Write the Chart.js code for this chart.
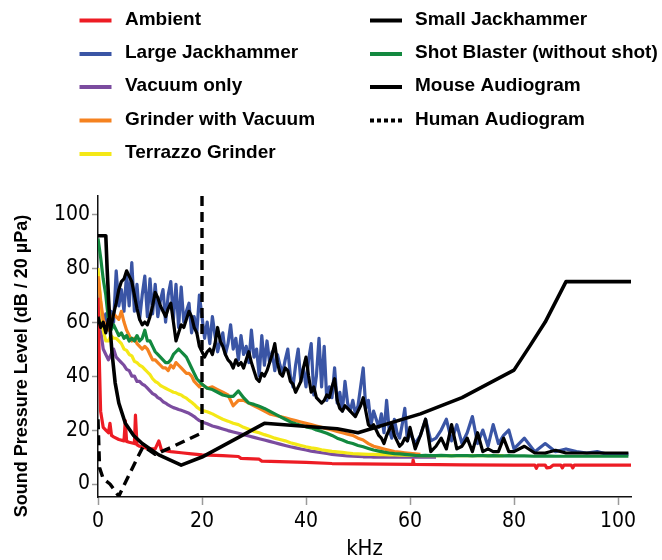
<!DOCTYPE html>
<html>
<head>
<meta charset="utf-8">
<script src="https://cdn.jsdelivr.net/npm/chart.js@4.4.1/dist/chart.umd.min.js"></script>
<style>
html,body{margin:0;padding:0;background:#fff;}
canvas{display:block;}
</style>
</head>
<body>
<canvas id="c" width="662" height="560"></canvas>
<script>
// ---------- DATA ----------
const seriesNames = ['Ambient','Large Jackhammer','Vacuum only','Grinder with Vacuum','Terrazzo Grinder',
                     'Small Jackhammer','Shot Blaster (without shot)','Mouse Audiogram','Human Audiogram'];
const yAxisTitle = 'Sound Pressure Level (dB / 20 µPa)';
const xAxisTitle = 'kHz';

// fine frequency grid (kHz) for the two jackhammer spectra
const jackKHz = [
  0,0.5,1,1.5,2,2.5,3,3.5,4,4.5,5,5.5,6,6.5,7,7.5,8,8.5,9,9.5,10,10.5,11,11.5,12,12.5,13,13.5,14,14.5,15,15.5,16,16.5,17,17.5,18,18.5,19,19.5,20,
  20.5,21,21.5,22,22.5,23,23.5,24,24.5,25,25.5,26,26.5,27,27.5,28,28.5,29,29.5,30,
  30.5,31,31.5,32,32.5,33,33.5,34,34.5,35,35.5,36,36.5,37,37.5,38,38.5,39,39.5,40,
  40.5,41,41.5,42,42.5,43,43.5,44,44.5,45,45.5,46,46.5,47,47.5,48,48.5,49,49.5,50,
  50.5,51,51.5,52,52.5,53,53.5,54,54.5,55,55.5,56,56.5,57,57.5,58,58.5,59,59.5,60,
  61,62,63,64,65,66,67,68,69,70,71,72,73,74,75,76,77,78,79,80,
  82,84,86,88,90,92,94,96,98,100,102
];

const largeJackhammer = [
  62,66,59,63,58,64,60,79,66,72, 64,78,66,82,64,74,61,70,77,62, 76,63,74,62,68,72,60,70,75,61, 74,58,73,60,64,67,56,62,56,70, 62,
  54,60,52,62,55,49,53,56,48,52,59,50,54,46,55,48,51,45,57,47,
  50,40,55,44,53,45,49,42,48,44,41,46,50,40,36,44,50,38,43,36,
  46,52,33,40,54,36,51,31,36,32,43,30,34,27,38,30,27,31,26,29,
  36,43,28,31,22,27,24,21,26,19,31,20,17,24,19,17,22,28,16,19,
  15,18,24,16,17,20,24,16,22,15,19,25,15,20,14,22,15,18,20,13,
  17,12,15,12,13,12,11.5,12,11,11,11
];

const smallJackhammer = [
  62,58,60,56,61,58,63,67,72,75, 76,79,77,75,70,65,61,59,60,59, 62,66,71,69,66,64,62,65,67,60, 53,56,59,58,61,64,62,58,56,51, 49,
  47,49,50,48,52,58,53,51,48,46,45,43,46,44,45,43,46,49,45,42,
  39,38,41,40,42,45,48,52,45,41,40,43,42,38,37,34,36,38,43,47,
  40,34,36,32,31,30,31,33,32,36,39,31,28,27,29,28,27,26,25,27,
  29,32,27,22,21,22,20,18,17,15,18,20,22,18,16,14,15,17,16,21,
  13,18,24,12,14,17,13,22,13,14,17,12,19,12,13,12,12,17,12,12,
  14,11.5,11.5,12.5,11.5,11.5,11.5,11.5,11.5,11.5,11.5
];

// coarser frequency grid (kHz) for the smoother spectra
const smoothKHz = [
  0,0.5,1,1.5,2,2.5,3,3.5,4,4.5,5,5.5,6,6.5,7,7.5,8,8.5,9,9.5,10,10.5,11,11.5,12,12.5,13,13.5,14,14.5,15,15.5,16,16.5,17,17.5,18,18.5,19,19.5,20,
  21,22,23,24,25,26,27,28,29,30,31,32,33,34,35,36,37,38,39,40,41,42,43,44,45,46,47,48,49,50,
  51,52,53,54,55,56,57,58,59,60,61,62,63,64,65,66,67,68,69,70,71,72,73,74,75,76,77,78,79,80,
  82,84,86,88,90,92,94,96,98,100,102
];

const shotBlaster = [
  91,84,76,70,61,57,59,57,55,56, 54,55,53,54,53,55,53,54,57,53, 53,51,49,48,47,46,45,45,46,48, 49,50,49,48,47,45,43,41,39,38, 37,
  35.5,35,34,33,32.5,32.5,34.5,32,30,29.5, 28.8,28,27,26,25,24,23,22.3,21.8,21.2, 20.8,20,19.5,18.8,18,17,16.3,15.5,15,14.3,
  13.8,13.2,12.6,12.2,11.8,11.5,11.3,11.2,11,10.8, 10.6,10.5,10.6,10.5,10.5,10.6,10.5,10.4,10.5,10.5, 10.5,10.4,10.5,10.5,10.4,10.5,10.4,10.4,10.5,10.4,
  10.4,10.3,10.4,10.3,10.3,10.3,10.3,10.3,10.3,10.3,10.3
];

const grinderWithVacuum = [
  77,68,61,58,57,60,63,62,61,64, 60,57,55,53,54,52,51,50,51,50, 48,46,46,45,44,43,43,42,44,43, 45,44,43,42,41,41,40,38,37,36, 37,
  35.5,36,35,34,33,29,31,31,30,29, 28,27,26,25.5,25,24.5,24,23.5,23,22.5, 22,21.5,21,20.5,20,19.5,19,18.5,18,17,
  16.3,15,14,13.5,13,12.5,12,11.8,11.6,11.4, 11.2,11,null,null,null,null,null,null,null,null, null,null,null,null,null,null,null,null,null,null,
  null,null,null,null,null,null,null,null,null,null,null
];

const terrazzoGrinder = [
  80,68,57,53,53,55,54,54,53,52, 50,49.5,48,47.5,45.5,45,44,43.5,42.5,41.5, 40.5,39,38,37.5,36.5,36,35.5,35,34.5,34, 33.8,33.3,33,32.3,31.8,31,30.3,29.5,28.5,27.8, 27.3,
  26.8,26,25,24,23.3,22.5,22,21,20.3,19.5, 19,18.3,17.7,17,16.5,16,15.3,14.8,14.3,13.8, 13.4,13.1,12.7,12.4,12.1,11.9,11.7,11.5,11.3,11.2,
  11.1,11,11,10.9,10.9,10.8,10.8,10.7,10.7,10.6, 10.6,10.5,10.5,10.5,10.5,10.5,10.5,10.5,10.5,10.5, 10.5,10.5,10.5,10.5,10.5,10.5,10.5,10.5,null,null,
  null,null,null,null,null,null,null,null,null,null,null
];

const vacuumOnly = [
  72,57,50,48,46,48,50,47,46,45, 44,42.5,42,40,40,38,38,37,36.5,35.5, 34.5,33.5,33,32,31.5,30.5,30,29.3,28.8,28.3, 28,27.6,27.3,27,26.6,26.2,25.6,25,24.2,23.5, 23,
  22.3,21.5,21,20.4,19.8,19.3,18.8,18.3,17.8,17.3, 16.8,16.3,15.8,15.3,14.8,14.3,13.8,13.4,13,12.6, 12.2,11.9,11.6,11.3,11,10.8,10.6,10.4,10.3,10.2,
  10.1,10.1,10,10,10,10,10,10,10,10, 10,10,10,10,10,null,null,null,null,null, null,null,null,null,null,null,null,null,null,null,
  null,null,null,null,null,null,null,null,null,null,null
];

const ambientKHz = [0,0.2,0.5,1,1.5,2,2.3,2.6,3,4,5,5.25,5.5,6,7,7.2,7.5,8,9,10,11,11.7,12.2,14,16,18,20,24,27,27.5,31,31.5,40,45,55,60.5,60.6,60.8,70,80,84,84.3,84.6,86,86.3,87,87.5,89,89.3,89.6,91,91.3,91.6,102.5];
const ambientDB  = [69,50,27,21,20,19,22.5,18,17.5,16.5,16,23.5,15.8,15.5,15,25.5,14.5,14,13.5,13,13,16,12.6,12,11.6,11.2,10.8,10.5,10.2,9.5,9.2,8.5,8,7.6,7.4,7.3,8.9,7.3,7.1,7,7,5.8,7,7,6,6.2,7,7,6,7,7,6,7,7];

const mouseKHz = [0,1.5,1.75,2.05,2.4,2.7,3.3,4,5.25,6.85,8.5,11.7,16,20,32,46,50,62,70,80,83,86,90,102.5];
const mouseDB  = [92,92,80,68,56,48.5,37.5,30,22.5,18,15,10.8,7,10,22.5,20.5,19,26,32,42.2,51,60,75,75];

const humanKHz = [0,0.3,1,2.3,4,5.8,7.4,8.7,11,14,20,20];
const humanDB  = [24,6,2,0,-4.5,2.7,9,14,11,13.5,19,107];

const xTickValues = [0,20,40,60,80,100];
const yTickValues = [0,20,40,60,80,100];

// ---------- BUILD ----------
function pts(xs, ys){ const out=[]; xs.forEach((x,i)=>{ if(ys[i]!==null && ys[i]!==undefined) out.push({x:x,y:ys[i]}); }); return out; }

const seriesDefs = [
  {data: pts(ambientKHz, ambientDB),          color:'#ed1c24', width:3.2, order:3},
  {data: pts(jackKHz, largeJackhammer),       color:'#3a55a5', width:3.2, order:8},
  {data: pts(smoothKHz, vacuumOnly),          color:'#7b4c9f', width:3.2, order:7},
  {data: pts(smoothKHz, grinderWithVacuum),   color:'#f58220', width:3.2, order:5},
  {data: pts(smoothKHz, terrazzoGrinder),     color:'#f4e816', width:3.2, order:6},
  {data: pts(jackKHz, smallJackhammer),       color:'#000000', width:3.2, order:2},
  {data: pts(smoothKHz, shotBlaster),         color:'#13893f', width:3.2, order:4},
  {data: pts(mouseKHz, mouseDB),              color:'#000000', width:3.6, order:0},
  {data: pts(humanKHz, humanDB),              color:'#000000', width:3.4, order:1, dash:[10,6]}
];

const datasets = seriesDefs.map((s,i)=>({
  label: seriesNames[i],
  data: s.data,
  borderColor: s.color,
  backgroundColor: s.color,
  borderWidth: s.width,
  borderDash: s.dash || [],
  order: s.order,
  pointRadius: 0,
  tension: 0,
  fill: false,
  borderJoinStyle: 'round'
}));

const legendPlugin = {
  id: 'twoColLegend',
  afterDraw(chart){
    const ctx = chart.ctx;
    const baselines = [24.5, 58, 91, 124.5, 158];
    ctx.save();
    ctx.font = 'bold 19px "Liberation Sans", Arial, sans-serif';
    ctx.textBaseline = 'alphabetic';
    ctx.textAlign = 'left';
    chart.data.datasets.forEach((ds,i)=>{
      const col = i < 5 ? 0 : 1;
      const row = col ? i-5 : i;
      const lx = col ? 370 : 79.5;
      const tx = col ? 415 : 125;
      const by = baselines[row];
      ctx.strokeStyle = ds.borderColor;
      ctx.lineWidth = 4;
      ctx.setLineDash(ds.borderDash && ds.borderDash.length ? [4,3] : []);
      ctx.beginPath(); ctx.moveTo(lx, by-4); ctx.lineTo(lx+32, by-4); ctx.stroke();
      ctx.setLineDash([]);
      ctx.fillStyle = '#000';
      ctx.fillText(ds.label, tx, by);
    });
    // y-axis title (sits a little below the axis centre in the original)
    ctx.translate(22, 366);
    ctx.rotate(-Math.PI/2);
    ctx.font = 'bold 18px "Liberation Sans", Arial, sans-serif';
    ctx.textAlign = 'center';
    ctx.textBaseline = 'middle';
    ctx.fillText(yAxisTitle, 0, 0);
    ctx.restore();
  }
};

const tickFont = {family: '"DejaVu Sans Condensed", "DejaVu Sans", sans-serif', size: 21};

new Chart(document.getElementById('c'), {
  type: 'line',
  data: {datasets},
  options: {
    responsive: false,
    animation: false,
    devicePixelRatio: 1,
    layout: {padding: {left: 0, top: 196, right: 31, bottom: 0}},
    plugins: {legend: {display: false}, tooltip: {enabled: false}},
    scales: {
      x: {
        type: 'linear', min: 0, max: 102.5,
        afterBuildTicks: s => { s.ticks = xTickValues.map(v => ({value: v})); },
        afterFit: s => { s.height = 63; },
        ticks: {font: tickFont, color: '#000', padding: 4, maxRotation: 0, autoSkip: false},
        grid: {drawOnChartArea: false, drawTicks: true, tickLength: 8, tickColor: '#9a9a9a', tickWidth: 1.5},
        border: {display: true, color: '#111', width: 1.5},
        title: {display: true, text: xAxisTitle, color: '#000',
                font: {family: '"DejaVu Sans Condensed", "DejaVu Sans", sans-serif', size: 22, lineHeight: 1},
                padding: {top: 0, bottom: 0}}
      },
      y: {
        type: 'linear', min: -4.8, max: 106.7,
        afterBuildTicks: s => { s.ticks = yTickValues.map(v => ({value: v})); },
        afterFit: s => { s.width = 98; },
        ticks: {font: tickFont, color: '#000', padding: 2, autoSkip: false},
        grid: {drawOnChartArea: false, drawTicks: true, tickLength: 6, tickColor: '#9a9a9a', tickWidth: 1.5},
        border: {display: true, color: '#111', width: 1.5},
        title: {display: false}
      }
    }
  },
  plugins: [legendPlugin]
});
</script>
</body>
</html>
